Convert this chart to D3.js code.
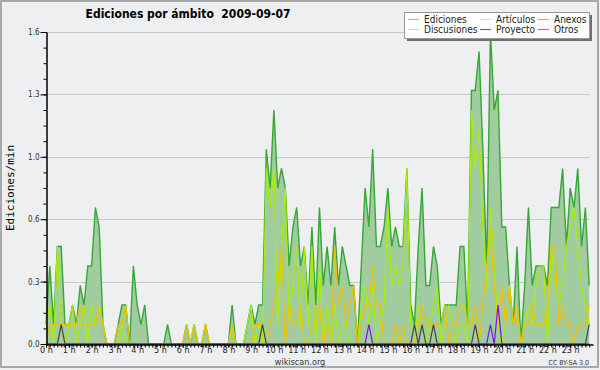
<!DOCTYPE html>
<html>
<head>
<meta charset="utf-8">
<script src="https://cdn.jsdelivr.net/npm/d3@7"></script>
<style>
body { margin: 0; background: #eeeff0; }
svg { display: block; }
.cond { font-family: "DejaVu Sans Condensed", "DejaVu Sans", sans-serif; font-stretch: condensed; }
</style>
</head>
<body>
<script>
// edits per minute, one value every 10 minutes (144 bins), 2009-09-07
var ediciones = [
  0.1,0.4,0.1,0.5,0.5,0.1,0.1,0.2,0.1,0.3,0.2,0.4,0.4,0.7,0.6,0.1,
  0,0,0,0.1,0.2,0.2,0,0.4,0.2,0.1,0.2,0,0,0,0,0,
  0.1,0,0,0,0,0.1,0,0.1,0,0,0.1,0,0,0,0,0,
  0,0.2,0,0,0,0.1,0.2,0.1,0.2,0.2,1.0,0.8,1.2,0.8,0.9,0.8,
  0.4,0.6,0.7,0.4,0.5,0.2,0.6,0.2,0.7,0.3,0.5,0.3,0.6,0.3,0.5,0.4,
  0.3,0.3,0,0.4,0.8,0.6,1.0,0.5,0.5,0.6,0.8,0.5,0.6,0.5,0.5,0.9,
  0.2,0.1,0.5,0.8,0.3,0.3,0.5,0.4,0.1,0.2,0.2,0.2,0.2,0.5,0.5,0.1,
  1.3,1.3,1.5,1.0,0.4,1.6,1.2,1.3,0.6,0.6,0.3,0.1,0.5,0,0.3,0.7,
  0.3,0.4,0.4,0.4,0.3,0.7,0.7,0.7,0.9,0.5,0.8,0.7,0.9,0.5,0.7,0.3
];
var articulos = [
  0.1,0.2,0,0.5,0.1,0,0.1,0.2,0,0.1,0.2,0,0.2,0.1,0.2,0.1,
  0,0,0,0,0.1,0,0,0,0,0,0,0,0,0,0,0,
  0,0,0,0,0,0.1,0,0.1,0,0,0.1,0,0,0,0,0,
  0,0.1,0,0,0,0.1,0.2,0,0.1,0,0.9,0.7,0.9,0.1,0.5,0.8,
  0.1,0.3,0.5,0.1,0.5,0.1,0.5,0,0.4,0,0.2,0,0.2,0,0.1,0.1,
  0,0,0,0.2,0.3,0.1,0.3,0,0.1,0.2,0.7,0.3,0.4,0.3,0.4,0.9,
  0.1,0,0.2,0.1,0,0.1,0.2,0.3,0,0.1,0.2,0.1,0,0.1,0.1,0,
  1.2,0.9,1.1,0.6,0.3,0.7,0.4,0.1,0,0.1,0.3,0.1,0.2,0,0.1,0.2,
  0.1,0.3,0.4,0.4,0,0.5,0.3,0.2,0.3,0.5,0.6,0.7,0.5,0.3,0.2,0.1
];
var discusiones = [
  0,0.1,0.1,0.1,0.1,0.1,0.1,0.1,0.1,0.2,0.1,0.1,0.1,0.1,0.2,0.1,
  0,0,0,0.1,0.1,0.2,0,0,0,0,0,0,0,0,0,0,
  0,0,0,0,0,0.1,0,0.1,0,0,0.1,0,0,0,0,0,
  0,0.1,0,0,0,0,0,0.1,0.1,0.1,0,0.1,0.2,0.3,0.5,0,
  0.2,0.1,0.1,0.2,0,0,0.1,0.1,0.2,0,0.1,0,0.5,0.2,0.3,0.1,
  0.2,0.3,0,0.1,0.2,0.2,0.4,0.2,0.2,0,0,0,0.1,0,0.1,0,
  0,0,0.1,0.2,0.1,0.1,0.1,0.1,0.1,0.2,0,0.1,0.1,0.2,0.2,0.1,
  0.1,0.2,0,0.2,0.4,0.6,0.3,0.1,0.3,0.1,0.3,0.1,0.2,0,0.1,0.1,
  0.2,0.1,0.1,0.1,0.2,0.5,0.5,0.1,0.2,0.1,0.1,0,0.1,0.1,0.1,0.2
];
var anexos = [
  0,0,0,0,0,0,0,0,0,0,0,0,0,0,0,0,
  0,0,0,0,0,0,0,0,0,0,0,0,0,0,0,0,
  0,0,0,0,0,0,0,0,0,0,0,0,0,0,0,0,
  0,0,0,0,0,0,0,0,0,0,0,0,0,0,0,0,
  0,0,0,0,0,0,0,0,0,0,0,0,0,0,0,0,
  0,0,0,0,0,0,0,0,0,0,0,0,0,0,0,0,
  0,0,0,0,0,0,0,0,0,0,0,0,0,0,0,0,
  0,0,0,0,0,0,0,0,0,0,0,0,0,0,0,0,
  0,0,0,0,0,0,0,0,0,0,0,0,0,0,0,0
];
var proyecto = [
  0,0,0,0,0.1,0,0,0,0,0,0,0,0,0,0,0,
  0,0,0,0,0,0,0,0,0,0,0,0,0,0,0,0,
  0,0,0,0,0,0,0,0,0,0,0,0,0,0,0,0,
  0,0,0,0,0,0,0,0,0,0.1,0,0,0,0,0,0,
  0,0,0,0,0,0,0,0,0,0,0,0,0,0,0,0,
  0,0,0,0,0,0,0,0,0,0,0,0,0,0,0,0,
  0,0.1,0,0.1,0,0,0.1,0,0,0,0,0,0,0,0,0,
  0,0.1,0,0,0,0,0,0,0,0,0,0,0,0,0,0,
  0,0,0,0,0,0,0,0,0,0,0,0,0,0,0,0.1
];
var otros = [
  0,0,0,0,0,0,0,0,0,0,0,0,0,0,0,0,
  0,0,0,0,0,0,0,0,0,0,0,0,0,0,0,0,
  0,0,0,0,0,0,0,0,0,0,0,0,0,0,0,0,
  0,0,0,0,0,0,0,0,0,0,0,0,0,0,0,0,
  0,0,0,0,0,0,0,0,0,0,0,0,0,0,0,0,
  0,0,0,0,0,0.1,0,0,0,0,0,0,0,0,0,0,
  0,0,0,0,0,0,0,0,0,0,0,0,0,0,0,0,
  0,0,0,0,0,0.1,0,0.2,0,0,0,0,0,0,0,0,
  0,0,0,0,0,0,0,0,0,0,0,0,0,0,0,0
];
var yTickValues = [0, 0.32, 0.64, 0.96, 1.28, 1.6];
var hourTicks = d3.range(0, 24);

var width = 600, height = 370;

var svg = d3.select("body").append("svg")
    .attr("width", width)
    .attr("height", height);

// frame
svg.append("rect")
    .attr("x", 1).attr("y", 1)
    .attr("width", width - 3).attr("height", height - 4)
    .style("fill", "#eeeff0")
    .style("stroke", "#a8a8a8")
    .style("stroke-width", 2);

var x = d3.scaleLinear().domain([0, 1440]).range([46, 593]);
var y = d3.scaleLinear().domain([0, 1.6]).range([344, 32]);

// grid
svg.append("g").selectAll("line")
    .data(yTickValues.slice(1))
  .enter().append("line")
    .attr("x1", 46).attr("x2", 590)
    .attr("y1", function(d){ return Math.round(y(d)) + 0.5; })
    .attr("y2", function(d){ return Math.round(y(d)) + 0.5; })
    .style("stroke", "#c8c8c8")
    .style("stroke-width", 1);

function serie(arr){
  return arr.map(function(v, i){ return {t: i * 10, v: v}; });
}

var area = d3.area()
    .x(function(d){ return x(d.t); })
    .y0(y(0))
    .y1(function(d){ return y(d.v); });

var line = d3.line()
    .x(function(d){ return x(d.t); })
    .y(function(d){ return y(d.v); });

svg.append("path")
    .datum(serie(ediciones))
    .attr("d", area)
    .style("fill", "#a0cca0");

svg.append("path")
    .datum(serie(ediciones))
    .attr("d", line)
    .style("fill", "none")
    .style("stroke", "#35a835")
    .style("stroke-width", 1.4);

var series = [
  {data: articulos, color: "#aaee00"},
  {data: discusiones, color: "#f2c000"},
  {data: anexos, color: "#ff6a1a"},
  {data: proyecto, color: "#404040"},
  {data: otros, color: "#7a10ee"}
];
series.forEach(function(s){
  svg.append("path")
      .datum(serie(s.data))
      .attr("d", line)
      .style("fill", "none")
      .style("stroke", s.color)
      .style("stroke-width", 1.2);
});

// y axis
var yAxis = svg.append("g")
    .attr("transform", "translate(46.5,0)")
    .call(d3.axisLeft(y).tickValues(yTickValues).tickSize(6).tickSizeOuter(0)
      .tickPadding(1).tickFormat(d3.format(".1f")));
svg.append("g")
    .attr("transform", "translate(46.5,0)")
    .call(d3.axisLeft(y).tickValues(d3.range(0, 1.6001, 0.08)).tickSize(3)
      .tickSizeOuter(0).tickFormat(""));
yAxis.selectAll("text").attr("class", "cond").style("font-size", "8px").style("fill", "#333");

// x axis
var xAxis = svg.append("g")
    .attr("transform", "translate(0,344.5)")
    .call(d3.axisBottom(x).tickValues(hourTicks.map(function(h){ return h * 60; }))
      .tickSize(3).tickSizeOuter(0).tickPadding(0)
      .tickFormat(function(d){ return (d / 60) + " h"; }));
svg.append("g")
    .attr("transform", "translate(0,344.5)")
    .call(d3.axisBottom(x).tickValues(d3.range(0, 1440, 10)).tickSize(3)
      .tickSizeOuter(0).tickFormat(""));
xAxis.selectAll("text").attr("class", "cond").attr("y", 2.6)
    .style("font-size", "9px").style("fill", "#222");
svg.selectAll(".domain").style("stroke", "#000");
svg.selectAll(".tick line").style("stroke", "#000");

// titles
svg.append("text")
    .attr("class", "cond")
    .attr("x", 188).attr("y", 18)
    .attr("text-anchor", "middle")
    .style("white-space", "pre")
    .style("font-size", "12px").style("font-weight", "bold")
    .text("Ediciones por ámbito  2009-09-07");

svg.append("text")
    .attr("transform", "translate(14,188) rotate(-90)")
    .attr("text-anchor", "middle")
    .style("font-family", "DejaVu Sans Mono, monospace")
    .style("font-size", "11px")
    .text("Ediciones/min");

svg.append("text")
    .attr("class", "cond")
    .attr("x", 300).attr("y", 364.5)
    .attr("text-anchor", "middle")
    .style("font-size", "9px").style("fill", "#333")
    .text("wikiscan.org");

svg.append("text")
    .attr("class", "cond")
    .attr("x", 589).attr("y", 364.5)
    .attr("text-anchor", "end")
    .style("font-size", "7px").style("fill", "#333")
    .text("CC BY-SA 3.0");

// legend
var legend = [
  {name: "Ediciones", color: "#8fd08f", col: 0, row: 0},
  {name: "Artículos", color: "#d4f27a", col: 1, row: 0},
  {name: "Anexos", color: "#ff9a66", col: 2, row: 0},
  {name: "Discusiones", color: "#ffd866", col: 0, row: 1},
  {name: "Proyecto", color: "#6a6a6a", col: 1, row: 1},
  {name: "Otros", color: "#a066ff", col: 2, row: 1}
];
var colX = [408, 480, 538];
var rowY = [19, 29];

svg.append("rect")
    .attr("x", 407).attr("y", 15).attr("width", 185).attr("height", 26)
    .style("fill", "#707070");
svg.append("rect")
    .attr("x", 404.5).attr("y", 12.5).attr("width", 185).attr("height", 26)
    .style("fill", "#fff").style("stroke", "#999");

var lg = svg.append("g").selectAll("g")
    .data(legend)
  .enter().append("g")
    .attr("transform", function(d){ return "translate(" + colX[d.col] + "," + rowY[d.row] + ")"; });
lg.append("line")
    .attr("x1", 0).attr("x2", 11).attr("y1", 0.5).attr("y2", 0.5)
    .style("stroke", function(d){ return d.color; })
    .style("stroke-width", 1.2);
lg.append("text")
    .attr("class", "cond")
    .attr("x", 16).attr("y", 3.5)
    .style("font-size", "10px").style("fill", "#222")
    .text(function(d){ return d.name; });
</script>
</body>
</html>
